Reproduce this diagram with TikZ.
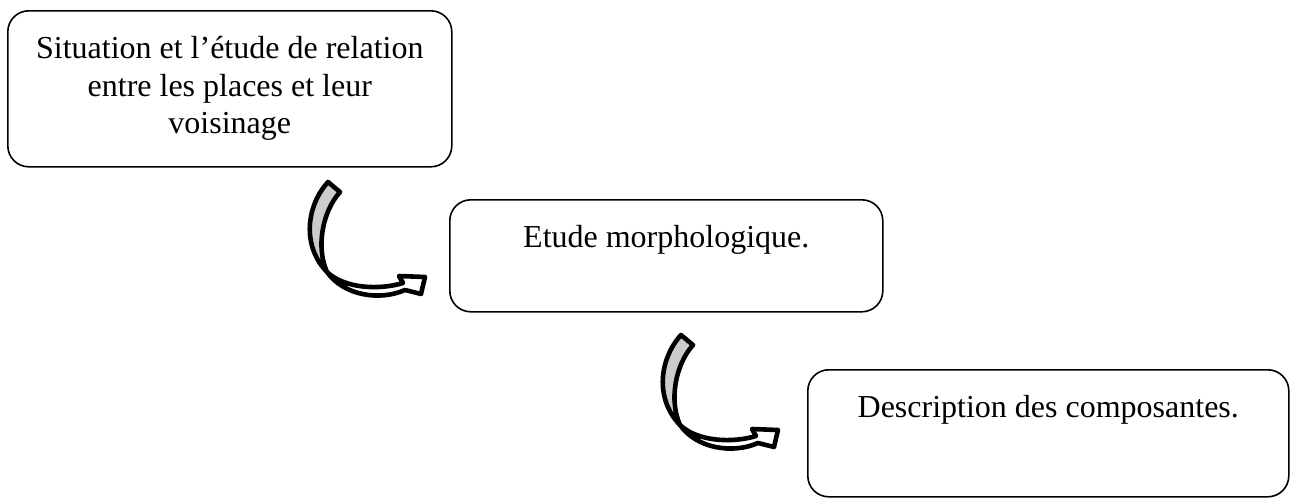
\documentclass[tikz,border=0pt]{standalone}
\usepackage{fontspec}
\setmainfont{Liberation Serif}
\usepackage{xcolor}
\usepackage{tikz}
\definecolor{arrowgray}{HTML}{CCCCCC}

\newcommand{\stagetext}[3]{\parbox[t][#2][t]{#1}{\centering\rule{0pt}{48pt}#3}}

\begin{document}
\begin{tikzpicture}[
  x=1pt, y=-1pt,
  stagebox/.style={draw, line width=1.6pt, rounded corners=21pt, inner sep=0pt,
                   anchor=north west, font=\fontsize{32}{37.5}\selectfont},
  bendarrow/.style={draw, line width=4.6pt, line join=round}
]
  \useasboundingbox (0,0) rectangle (1291,498);

  \node[stagebox] (situation) at (7,10)
    {\stagetext{444pt}{156pt}{Situation et l’étude de relation\\entre les places et leur\\voisinage}};
  \node[stagebox] (morpho) at (449,199)
    {\stagetext{433pt}{112pt}{Etude morphologique.}};
  \node[stagebox] (descr) at (807,369)
    {\stagetext{481pt}{127pt}{Description des composantes.}};

  % curved arrows between the steps
  \foreach \dx/\dy in {0/0, 353/153} {
    \begin{scope}[shift={(\dx,\dy)}]
      \path[bendarrow, fill=white] (327,272) .. controls (344,296) and (380,301) .. (405,290)
        -- (421,294) -- (425,277) -- (399,276) -- (403,283)
        .. controls (380,290) and (345,289) .. (327,272) -- cycle;
      \path[bendarrow, fill=arrowgray] (328,182) -- (340,192)
        .. controls (322,212) and (316,248) .. (327,272)
        .. controls (301,245) and (307,205) .. (328,182) -- cycle;
    \end{scope}
  }
\end{tikzpicture}
\end{document}
